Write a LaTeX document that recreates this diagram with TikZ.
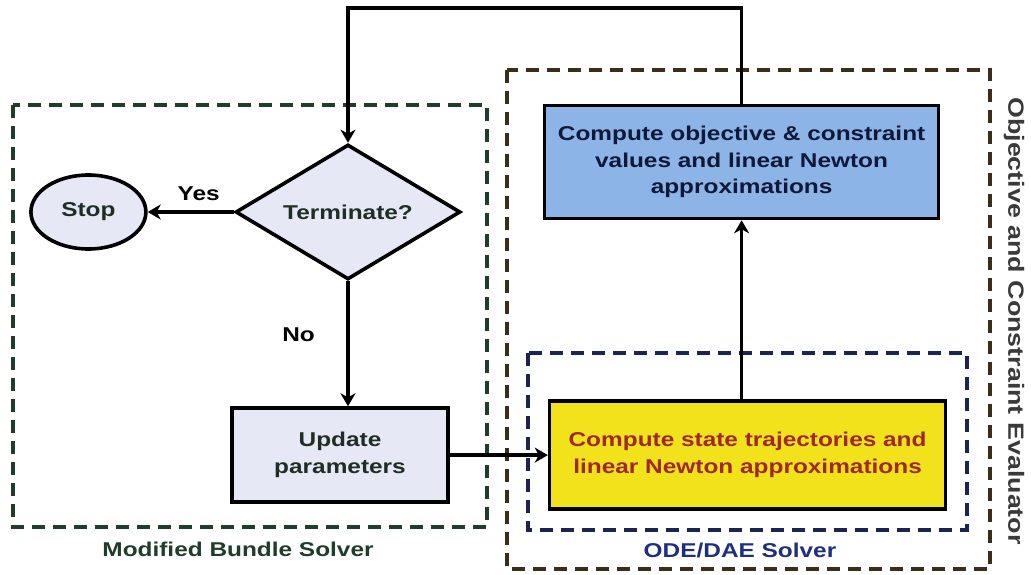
\documentclass[tikz,border=0pt]{standalone}
\usepackage{fontspec}
\setmainfont{Liberation Sans}[FakeStretch=1.22]
\usetikzlibrary{shapes.geometric,positioning,arrows.meta}
\tikzset{>={Stealth[length=13pt,width=15pt,inset=4pt]}}
\definecolor{bundlegreen}{HTML}{1F3D2A}
\definecolor{evalbrown}{HTML}{3A2E1A}
\definecolor{odenavy}{HTML}{1C2450}
\definecolor{odelabel}{HTML}{1E2E80}
\definecolor{objblue}{HTML}{8CB4E6}
\definecolor{objtext}{HTML}{10183A}
\definecolor{statefill}{HTML}{F2E21C}
\definecolor{statetext}{HTML}{A0282A}
\definecolor{paleblue}{HTML}{E6E8F6}
\definecolor{darktext}{HTML}{1E2E24}
\definecolor{evaltext}{HTML}{3A3A3A}
\tikzset{
  flowline/.style={line width=3.6pt},
  procbox/.style={draw=black, line width=3.6pt, rectangle, align=center, inner sep=0pt},
  decision/.style={draw=black, line width=3.6pt, diamond, fill=paleblue, text=darktext,
    aspect=1.67, inner sep=0pt, minimum width=225pt, minimum height=135pt},
  terminal/.style={draw=black, line width=3.6pt, ellipse, fill=paleblue, text=darktext,
    inner sep=0pt, minimum width=115pt, minimum height=74pt},
  groupbox/.style={line width=3.2pt, dash pattern=on 13pt off 8pt},
  grouplabel/.style={font=\bfseries\fontsize{20}{24}\selectfont}
}

\begin{document}
\begin{tikzpicture}[x=1pt, y=-1pt, font=\bfseries\fontsize{20}{26.7}\selectfont]
  \useasboundingbox (0,0) rectangle (1031,575);

  % groups
  \draw[groupbox, bundlegreen] (13,105) rectangle (487,527);
  \draw[groupbox, evalbrown] (507,70) rectangle (990,569);
  \draw[groupbox, odenavy] (528,353) rectangle (967,530);
  \node[grouplabel, text=bundlegreen] (bundlelbl) at (238,549) {Modified Bundle Solver};
  \node[grouplabel, text=odelabel] (odelbl) at (740,550) {ODE/DAE Solver};
  \node[grouplabel, text=evaltext, rotate=-90, font=\bfseries\fontsize{22}{24}\selectfont] (evallbl) at (1014,321) {Objective and Constraint Evaluator};

  % steps
  \node[decision] (term) at (348,212) {Terminate?};
  \node[terminal, left=86pt of term] (stop) {Stop};
  \node[procbox, fill=paleblue, text=darktext, below=125pt of term, xshift=-8pt, minimum width=216pt, minimum height=94pt] (upd) {Update\\parameters};
  \node[procbox, fill=statefill, text=statetext, right=98pt of upd, minimum width=396pt, minimum height=108pt] (state) {Compute state trajectories and\\linear Newton approximations};
  \node[procbox, fill=objblue, text=objtext, above=179pt of state, xshift=-6pt, minimum width=394pt, minimum height=113pt] (obj) {Compute objective \& constraint\\values and linear Newton\\approximations};

  % connectors
  \draw[flowline, ->] (term) -- node[above=6pt, xshift=8pt, text=black] (yeslbl) {Yes} (stop);
  \draw[flowline, ->] (term) -- node[pos=0.43, left=28pt, text=black] (nolbl) {No} (term.south |- upd.north);
  \draw[flowline, ->] (upd) -- (upd -| state.west);
  \draw[flowline, ->] (state.north -| obj.south) -- (obj.south);
  \draw[flowline, ->] (obj.north) -- (obj.north |- 0,8) -| (term.north);
\end{tikzpicture}
\end{document}
